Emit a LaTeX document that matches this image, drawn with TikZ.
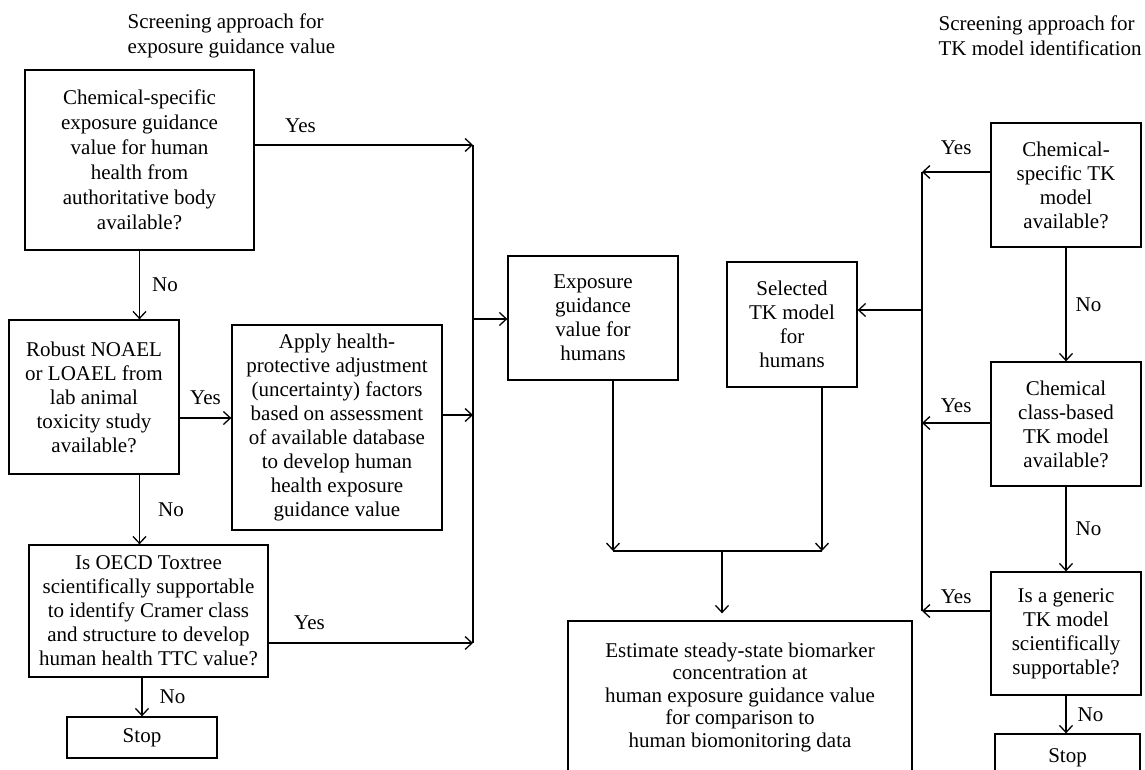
\documentclass[tikz,border=0pt]{standalone}
\usepackage{fontspec}
\setmainfont{Liberation Serif}
\usetikzlibrary{arrows.meta}

\begin{document}
\begin{tikzpicture}[x=1pt,y=-1pt,line width=1.3pt,
    every node/.style={font=\fontsize{21}{24}\selectfont},
    block/.style={rectangle,draw,line width=1.3pt,align=center,inner sep=2pt},
    lbl/.style={inner sep=0pt},
    >={Straight Barb[length=7pt,width=13pt]}]

    \path[use as bounding box,clip] (0,0) rectangle (1145,770);

    % Titles
    \node[lbl,align=left,anchor=west,font=\fontsize{21}{25}\selectfont] at (127,35.5) (title1) {Screening approach for\\exposure guidance value};
    \node[lbl,align=left,anchor=west,font=\fontsize{21}{25}\selectfont] at (938,35.5) (title2) {Screening approach for\\TK model identification};

    % Exposure guidance value path
    \node[block,minimum width=229pt,minimum height=180pt,font=\fontsize{21}{25}\selectfont] at (139.5,160) (q1) {Chemical-specific\\exposure guidance\\value for human\\health from\\authoritative body\\available?};
    \node[block,minimum width=170pt,minimum height=154pt] at (94,397) (q2) {Robust NOAEL\\or LOAEL from\\lab animal\\toxicity study\\available?};
    \node[block,minimum width=210pt,minimum height=205pt] at (337,427.5) (adjust) {Apply health-\\protective adjustment\\(uncertainty) factors\\based on assessment\\of available database\\to develop human\\health exposure\\guidance value};
    \node[block,minimum width=239pt,minimum height=132pt] at (148.5,611) (q3) {Is OECD Toxtree\\scientifically supportable\\to identify Cramer class\\and structure to develop\\human health TTC value?};
    \node[block,minimum width=150pt,minimum height=41pt] at (142,737.5) (stop1) {Stop};

    % Middle
    \node[block,minimum width=170pt,minimum height=124pt] at (593,318) (egv) {Exposure\\guidance\\value for\\humans};
    \node[block,minimum width=130pt,minimum height=125pt] at (792,324.5) (tkm) {Selected\\TK model\\for\\humans};
    \node[block,minimum width=344pt,minimum height=152pt,font=\fontsize{21}{22.5}\selectfont] at (740,697) (est) {Estimate steady-state biomarker\\concentration at\\human exposure guidance value\\for comparison to\\human biomonitoring data};

    % TK model path
    \node[block,minimum width=150pt,minimum height=124pt] at (1066,185) (t1) {Chemical-\\specific TK\\model\\available?};
    \node[block,minimum width=150pt,minimum height=124pt] at (1066,424) (t2) {Chemical\\class-based\\TK model\\available?};
    \node[block,minimum width=150pt,minimum height=123pt] at (1066,633.5) (t3) {Is a generic\\TK model\\scientifically\\supportable?};
    \node[block,minimum width=145pt,minimum height=48pt] at (1067.5,758) (stop2) {Stop};

    % Left bus
    \coordinate (ly1) at (473,145);
    \coordinate (ly2) at (473,415);
    \coordinate (ly3) at (473,643);
    \coordinate (lin) at (473,319);
    \draw (ly1) -- (ly3);
    \draw[->] (q1.east |- ly1) -- node[lbl,pos=0.21,above=12pt] {Yes} (ly1);
    \draw[->] (adjust.east |- ly2) -- (ly2);
    \draw[->] (q3.east |- ly3) -- node[lbl,pos=0.2,above=13pt] {Yes} (ly3);
    \draw[->] (lin) -- (lin -| egv.west);

    \draw[->] (q1.south) -- node[lbl,right=12pt] {No} (q1.south |- q2.north);
    \draw[->] ([yshift=-21pt]q2.east) -- node[lbl,above=13pt] {Yes} ([yshift=-21pt]q2.east -| adjust.west);
    \draw[->] (q2.south -| q1.south) -- node[lbl,right=18pt] {No} (q3.north -| q1.south);
    \draw[->] (q3.south -| stop1.north) -- node[lbl,right=17pt] {No} (stop1.north);

    % Right bus
    \coordinate (ry1) at (922,172);
    \coordinate (ry2) at (922,423);
    \coordinate (ry3) at (922,611);
    \coordinate (rout) at (922,310);
    \draw (ry1) -- (ry3);
    \draw[->] (t1.west |- ry1) -- node[lbl,above=17pt] {Yes} (ry1);
    \draw[->] (t2.west |- ry2) -- node[lbl,above=10pt] {Yes} (ry2);
    \draw[->] (t3.west |- ry3) -- node[lbl,above=7pt] {Yes} (ry3);
    \draw[->] (rout) -- (rout -| tkm.east);

    \draw[->] (t1) -- node[lbl,right=9pt] {No} (t2);
    \draw[->] (t2) -- node[lbl,right=9pt] {No} (t3);
    \draw[->] (t3) -- node[lbl,right=11pt] {No} (t3 |- stop2.north);

    % Join to estimate
    \coordinate (jl) at (613,551);
    \coordinate (jr) at (822,551);
    \coordinate (jm) at (722,551);
    \draw[->] (egv.south -| jl) -- (jl);
    \draw[->] (tkm.south -| jr) -- (jr);
    \draw (jl) -- (jr);
    \draw[->,shorten >=7pt] (jm) -- (jm |- est.north);
\end{tikzpicture}
\end{document}
